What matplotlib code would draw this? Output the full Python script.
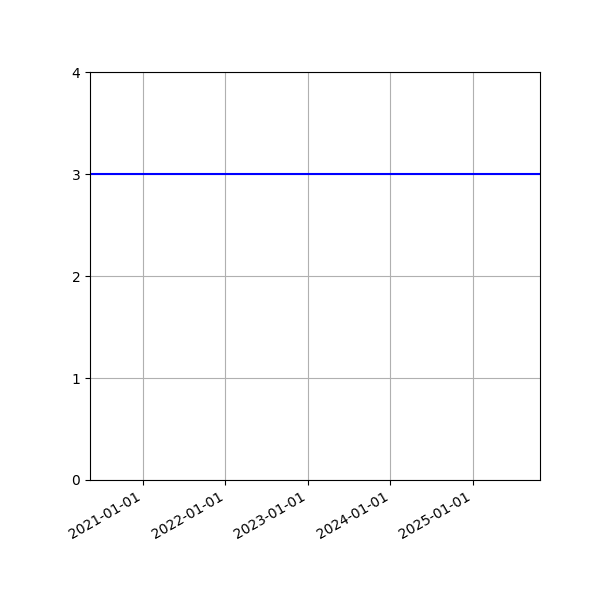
import matplotlib
matplotlib.use("Agg")
import matplotlib.pyplot as plt
import matplotlib.dates as mdates
import numpy as np

dates = np.array(["2020-05-12", "2025-10-24"], dtype="datetime64[D]")
values = [3, 3]
y_ticks = [0, 1, 2, 3, 4]

fig, ax = plt.subplots(figsize=(6, 6), dpi=100)
ax.plot(dates, values, color="blue")
ax.set_xlim(dates[0], dates[-1])
ax.set_ylim(0, 4)
ax.set_yticks(y_ticks)
ax.xaxis.set_major_locator(mdates.YearLocator())
ax.xaxis.set_major_formatter(mdates.DateFormatter("%Y-%m-%d"))
ax.grid(True)
fig.autofmt_xdate()
fig.subplots_adjust(left=0.15, right=0.9, top=0.88, bottom=0.2)
fig.savefig("out.png", dpi=100)
